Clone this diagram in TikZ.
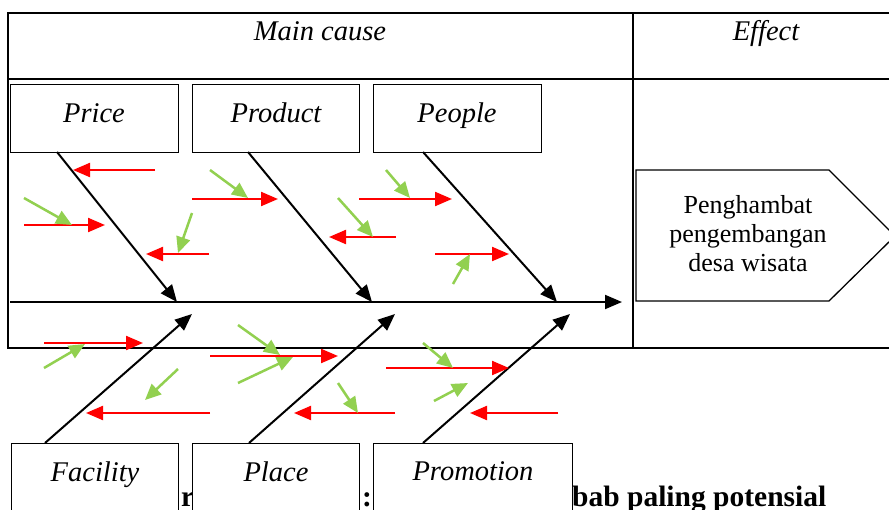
\documentclass[tikz,border=0pt]{standalone}
\usepackage{fontspec}
\setmainfont{Liberation Serif}
\usetikzlibrary{arrows.meta}
\definecolor{fbred}{HTML}{FF0000}
\definecolor{fbgreen}{HTML}{92D050}
\begin{document}
\begin{tikzpicture}[x=1pt,y=-1pt,
  catbox/.style={draw=black,line width=1.3pt,fill=white,inner sep=0pt,anchor=north west},
  lbl/.style={font=\fontsize{28.5}{34}\selectfont\itshape,anchor=base,inner sep=0pt},
  captxt/.style={font=\fontsize{29.5}{34}\selectfont\bfseries,anchor=base west,inner sep=0pt},
  efftxt/.style={font=\fontsize{26}{29}\selectfont,align=center,inner sep=0pt},
  bone/.style={draw=black,line width=2pt,-{Triangle[length=17pt,width=14pt]}},
  redarr/.style={draw=fbred,line width=2.2pt,-{Triangle[length=17pt,width=14pt]}},
  greenarr/.style={draw=fbgreen,line width=2.5pt,-{Triangle[length=16pt,width=14pt]}},
  tline/.style={draw=black,line width=2pt}]
\useasboundingbox (0,0) rectangle (889,509);
% table
\draw[tline] (8,13) -- (892,13);
\draw[tline] (8,79) -- (892,79);
\draw[tline] (8,348) -- (892,348);
\draw[tline] (8,12) -- (8,349);
\draw[tline] (633,12) -- (633,349);
\node[lbl] (maincause) at (320,40) {Main cause};
\node[lbl] (effecthead) at (766,40) {Effect};
% caption fragments
\node[captxt] (capr) at (181,506) {r};
\node[captxt] (capcolon) at (362,506) {:};
\node[captxt] (caprest) at (572,506) {bab paling potensial};
% category boxes
\node[catbox,minimum width=168pt,minimum height=68pt] (pricebox) at (10,84) {};
\node[catbox,minimum width=167pt,minimum height=68pt] (productbox) at (192,84) {};
\node[catbox,minimum width=168pt,minimum height=68pt] (peoplebox) at (373,84) {};
\node[catbox,minimum width=167pt,minimum height=80pt] (facilitybox) at (11,443) {};
\node[catbox,minimum width=167pt,minimum height=80pt] (placebox) at (192,443) {};
\node[catbox,minimum width=199pt,minimum height=80pt] (promotionbox) at (373,443) {};
\node[lbl] (price) at (94,122) {Price};
\node[lbl] (product) at (276,122) {Product};
\node[lbl] (people) at (457,122) {People};
\node[lbl] (facility) at (95,481) {Facility};
\node[lbl] (place) at (276,481) {Place};
\node[lbl] (promotion) at (473,480) {Promotion};
% effect
\draw[line width=1.3pt,fill=white] (636,170) -- (829,170) -- (895,236) -- (829,301) -- (636,301) -- cycle;
\node[efftxt] (effect) at (748,234) {Penghambat\\pengembangan\\desa wisata};
% spine and bones
\coordinate (spinestart) at (10,302);
\coordinate (spineend) at (622,302);
\draw[bone] (spinestart) -- (spineend);
\foreach \nm/\sx/\sy/\ex/\ey in {price/57/152/177/302, product/248/152/372/302, people/423/152/557/302,
  facility/45/443/192/314, place/249/443/395/314, promotion/423/443/570/314}{
  \coordinate (\nm s) at (\sx,\sy);
  \coordinate (\nm e) at (\ex,\ey);
  \draw[bone] (\nm s) -- (\nm e);
}
% red arrows
\foreach \n/\sx/\sy/\ex/\ey in {1/155/170/73/170, 2/24/225/105/225, 3/209/254/146/254, 4/192/199/278/199,
  5/359/199/452/199, 6/396/237/329/237, 7/435/254/509/254, 8/44/343/143/343, 9/210/413/86/413,
  10/210/356/338/356, 11/395/413/294/413, 12/386/368/509/368, 13/558/413/470/413}{
  \coordinate (r\n s) at (\sx,\sy);
  \coordinate (r\n e) at (\ex,\ey);
  \draw[redarr] (r\n s) -- (r\n e);
}
% green arrows
\foreach \n/\sx/\sy/\ex/\ey in {a/24/198/72/225, b/192/213/178/253, c/210/170/248/198, d/386/170/410/198,
  e/338/198/373/237, f/453/284/470/254, g/44/368/85/344, h/178/369/145/400, i/238/325/280/355,
  j/238/383/293/357, k/338/383/358/413, l/423/343/453/368, m/434/401/468/383}{
  \coordinate (g\n s) at (\sx,\sy);
  \coordinate (g\n e) at (\ex,\ey);
  \draw[greenarr] (g\n s) -- (g\n e);
}
\end{tikzpicture}
\end{document}
